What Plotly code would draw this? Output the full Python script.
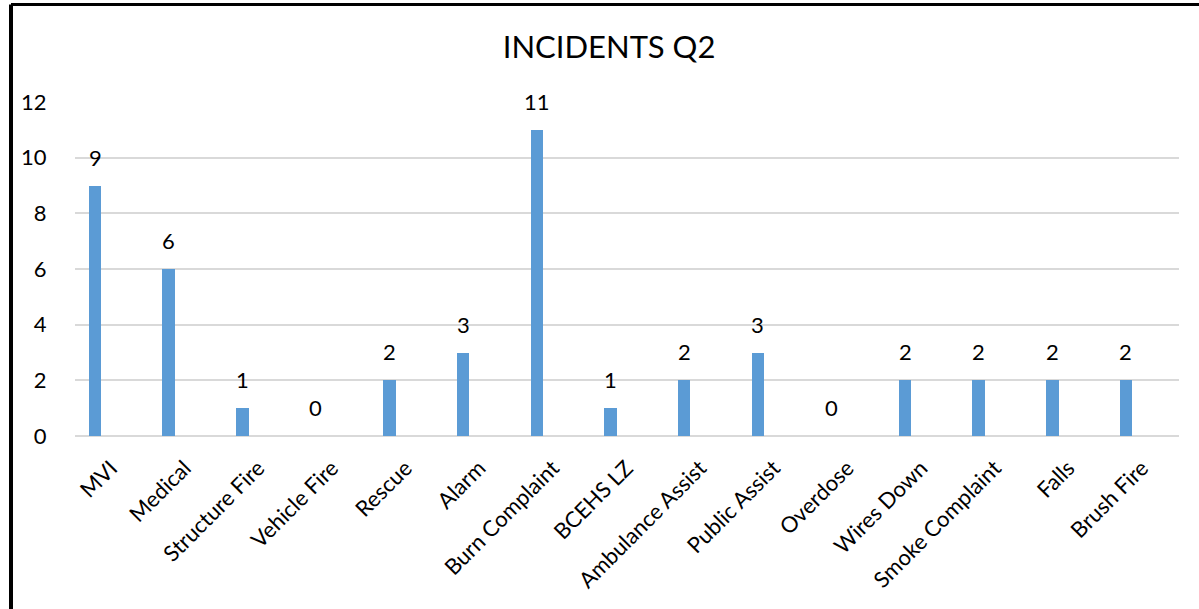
import plotly.graph_objects as go

categories = ["MVI", "Medical", "Structure Fire", "Vehicle Fire", "Rescue", "Alarm",
              "Burn Complaint", "BCEHS LZ", "Ambulance Assist", "Public Assist",
              "Overdose", "Wires Down", "Smoke Complaint", "Falls", "Brush Fire"]
counts = [9, 6, 1, 0, 2, 3, 11, 1, 2, 3, 0, 2, 2, 2, 2]
y_ticks = [0, 2, 4, 6, 8, 10, 12]

FONT = "Lato, 'Open Sans', sans-serif"
BAR_COLOR = "#5b9bd5"
GRID_COLOR = "#d9d9d9"

W, H = 1199, 609
L, R, T, B = 75, 20, 102, 173

x_idx = list(range(len(categories)))

fig = go.Figure()
fig.add_trace(go.Bar(
    x=x_idx,
    y=counts,
    width=0.17,
    marker=dict(color=BAR_COLOR, line=dict(width=0)),
    hoverinfo="x+y",
    showlegend=False,
))

# value labels above each bar
for i, v in zip(x_idx, counts):
    fig.add_annotation(
        x=i, y=v, text=str(v), showarrow=False,
        yanchor="bottom", yshift=13,
        font=dict(family=FONT, size=22, color="#000000"),
    )

# outer frame (left and top edges)
plot_w = W - L - R
plot_h = H - T - B
px_x = lambda p: (p - L) / plot_w
px_y = lambda p: (H - B - p) / plot_h
fig.add_shape(type="line", xref="paper", yref="paper",
              x0=px_x(11), x1=px_x(1199), y0=px_y(4.5), y1=px_y(4.5),
              line=dict(color="#000000", width=3))
fig.add_shape(type="line", xref="paper", yref="paper",
              x0=px_x(11), x1=px_x(11), y0=px_y(4.5), y1=px_y(609),
              line=dict(color="#000000", width=4))

fig.update_layout(
    width=W, height=H,
    margin=dict(l=L, r=R, t=T, b=B, pad=0),
    paper_bgcolor="white", plot_bgcolor="white",
    title=dict(text="INCIDENTS Q2", x=0.508, xanchor="center",
               y=1 - 47 / H, yanchor="middle",
               font=dict(family=FONT, size=31, color="#000000")),
    font=dict(family=FONT, color="#000000"),
    bargap=0,
)
fig.update_xaxes(
    tickmode="array", tickvals=x_idx, ticktext=categories,
    tickangle=-45, tickfont=dict(family=FONT, size=22, color="#000000"),
    ticklabelshift=16, ticklabelstandoff=14,
    range=[-0.272, 14.72], showgrid=False, zeroline=False,
    showline=False, ticks="",
)
fig.update_yaxes(
    range=[0, 12], tickvals=y_ticks, showgrid=True, gridcolor=GRID_COLOR,
    gridwidth=2, zeroline=True, zerolinecolor=GRID_COLOR, zerolinewidth=2,
    tickfont=dict(family=FONT, size=22, color="#000000"),
    ticks="outside", ticklen=23, tickcolor="rgba(0,0,0,0)", showline=False,
)

fig.write_html("out.html")
